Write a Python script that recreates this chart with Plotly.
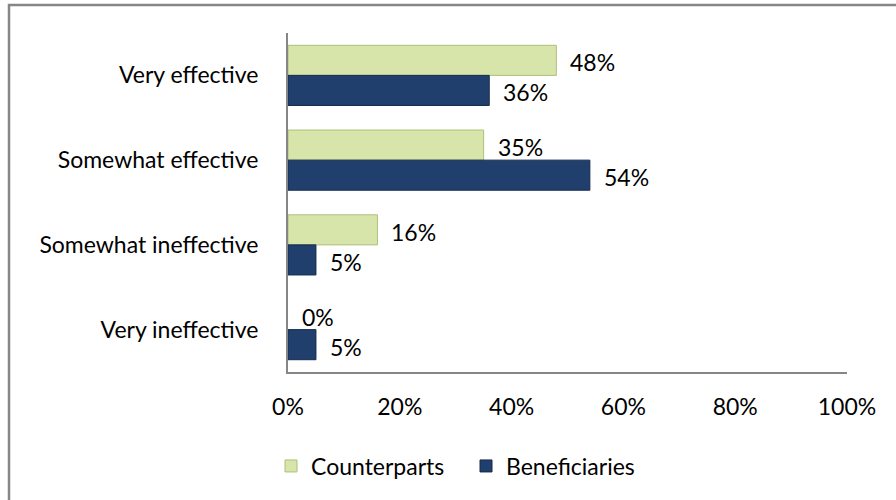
import plotly.graph_objects as go

categories = ["Very effective", "Somewhat effective", "Somewhat ineffective", "Very ineffective"]
counterparts = [48, 35, 16, 0]
beneficiaries = [36, 54, 5, 5]
x_ticks = [0, 20, 40, 60, 80, 100]
x_tick_labels = ["0%", "20%", "40%", "60%", "80%", "100%"]

FONT = "Lato"
FS = 23
GREEN = "#d7e5aa"
GREEN_EDGE = "#aebf7c"
BLUE = "#213f6d"
BLUE_EDGE = "#142a4c"

fig = go.Figure()
fig.add_trace(go.Bar(
    y=categories, x=counterparts, orientation="h", name="Counterparts",
    marker=dict(color=GREEN,
                line=dict(color=GREEN_EDGE, width=[1 if v > 0 else 0 for v in counterparts])),
))
fig.add_trace(go.Bar(
    y=categories, x=beneficiaries, orientation="h", name="Beneficiaries",
    marker=dict(color=BLUE,
                line=dict(color=BLUE_EDGE, width=[1 if v > 0 else 0 for v in beneficiaries])),
))

annotations = []
for cat, v in zip(categories, counterparts):
    annotations.append(dict(x=v, y=cat, xref="x", yref="y", text=f"{v}%",
                            showarrow=False, xanchor="left", yanchor="middle",
                            xshift=12, yshift=13,
                            font=dict(family=FONT, size=FS, color="#000")))
for cat, v in zip(categories, beneficiaries):
    annotations.append(dict(x=v, y=cat, xref="x", yref="y", text=f"{v}%",
                            showarrow=False, xanchor="left", yanchor="middle",
                            xshift=12, yshift=-17,
                            font=dict(family=FONT, size=FS, color="#000")))

W, H = 896, 500
L, R, T, B = 288, 49, 33, 128
pw, ph = W - L - R, H - T - B

def px_x(p):
    return (p - L) / pw

def px_y(p):
    return (H - B - p) / ph

fig.update_layout(
    width=W, height=H,
    margin=dict(l=L, r=R, t=T, b=B),
    paper_bgcolor="white", plot_bgcolor="white",
    barmode="group", bargap=0.29, bargroupgap=0,
    font=dict(family=FONT, size=FS, color="#000"),
    xaxis=dict(range=[0, 100], tickvals=x_ticks, ticktext=x_tick_labels,
               showgrid=False, zeroline=False, showline=True,
               linecolor="#868686", linewidth=2, ticks="",
               ticklabelstandoff=13, fixedrange=True),
    yaxis=dict(autorange="reversed", showgrid=False, zeroline=False,
               showline=True, linecolor="#868686", linewidth=2, ticks="",
               ticklabelstandoff=23, fixedrange=True),
    legend=dict(orientation="h", x=px_x(271), xanchor="left",
                y=px_y(466), yanchor="middle",
                entrywidth=150, entrywidthmode="pixels",
                font=dict(family=FONT, size=FS), traceorder="normal"),
    annotations=annotations,
    shapes=[dict(type="rect", xref="paper", yref="paper",
                 x0=px_x(9), x1=px_x(905), y0=px_y(510), y1=px_y(5),
                 line=dict(color="#868686", width=2.5), layer="above")],
)

fig.write_html("out.html", config={"displayModeBar": False},
               post_script="document.body.style.margin='0';document.body.style.padding='0';")
